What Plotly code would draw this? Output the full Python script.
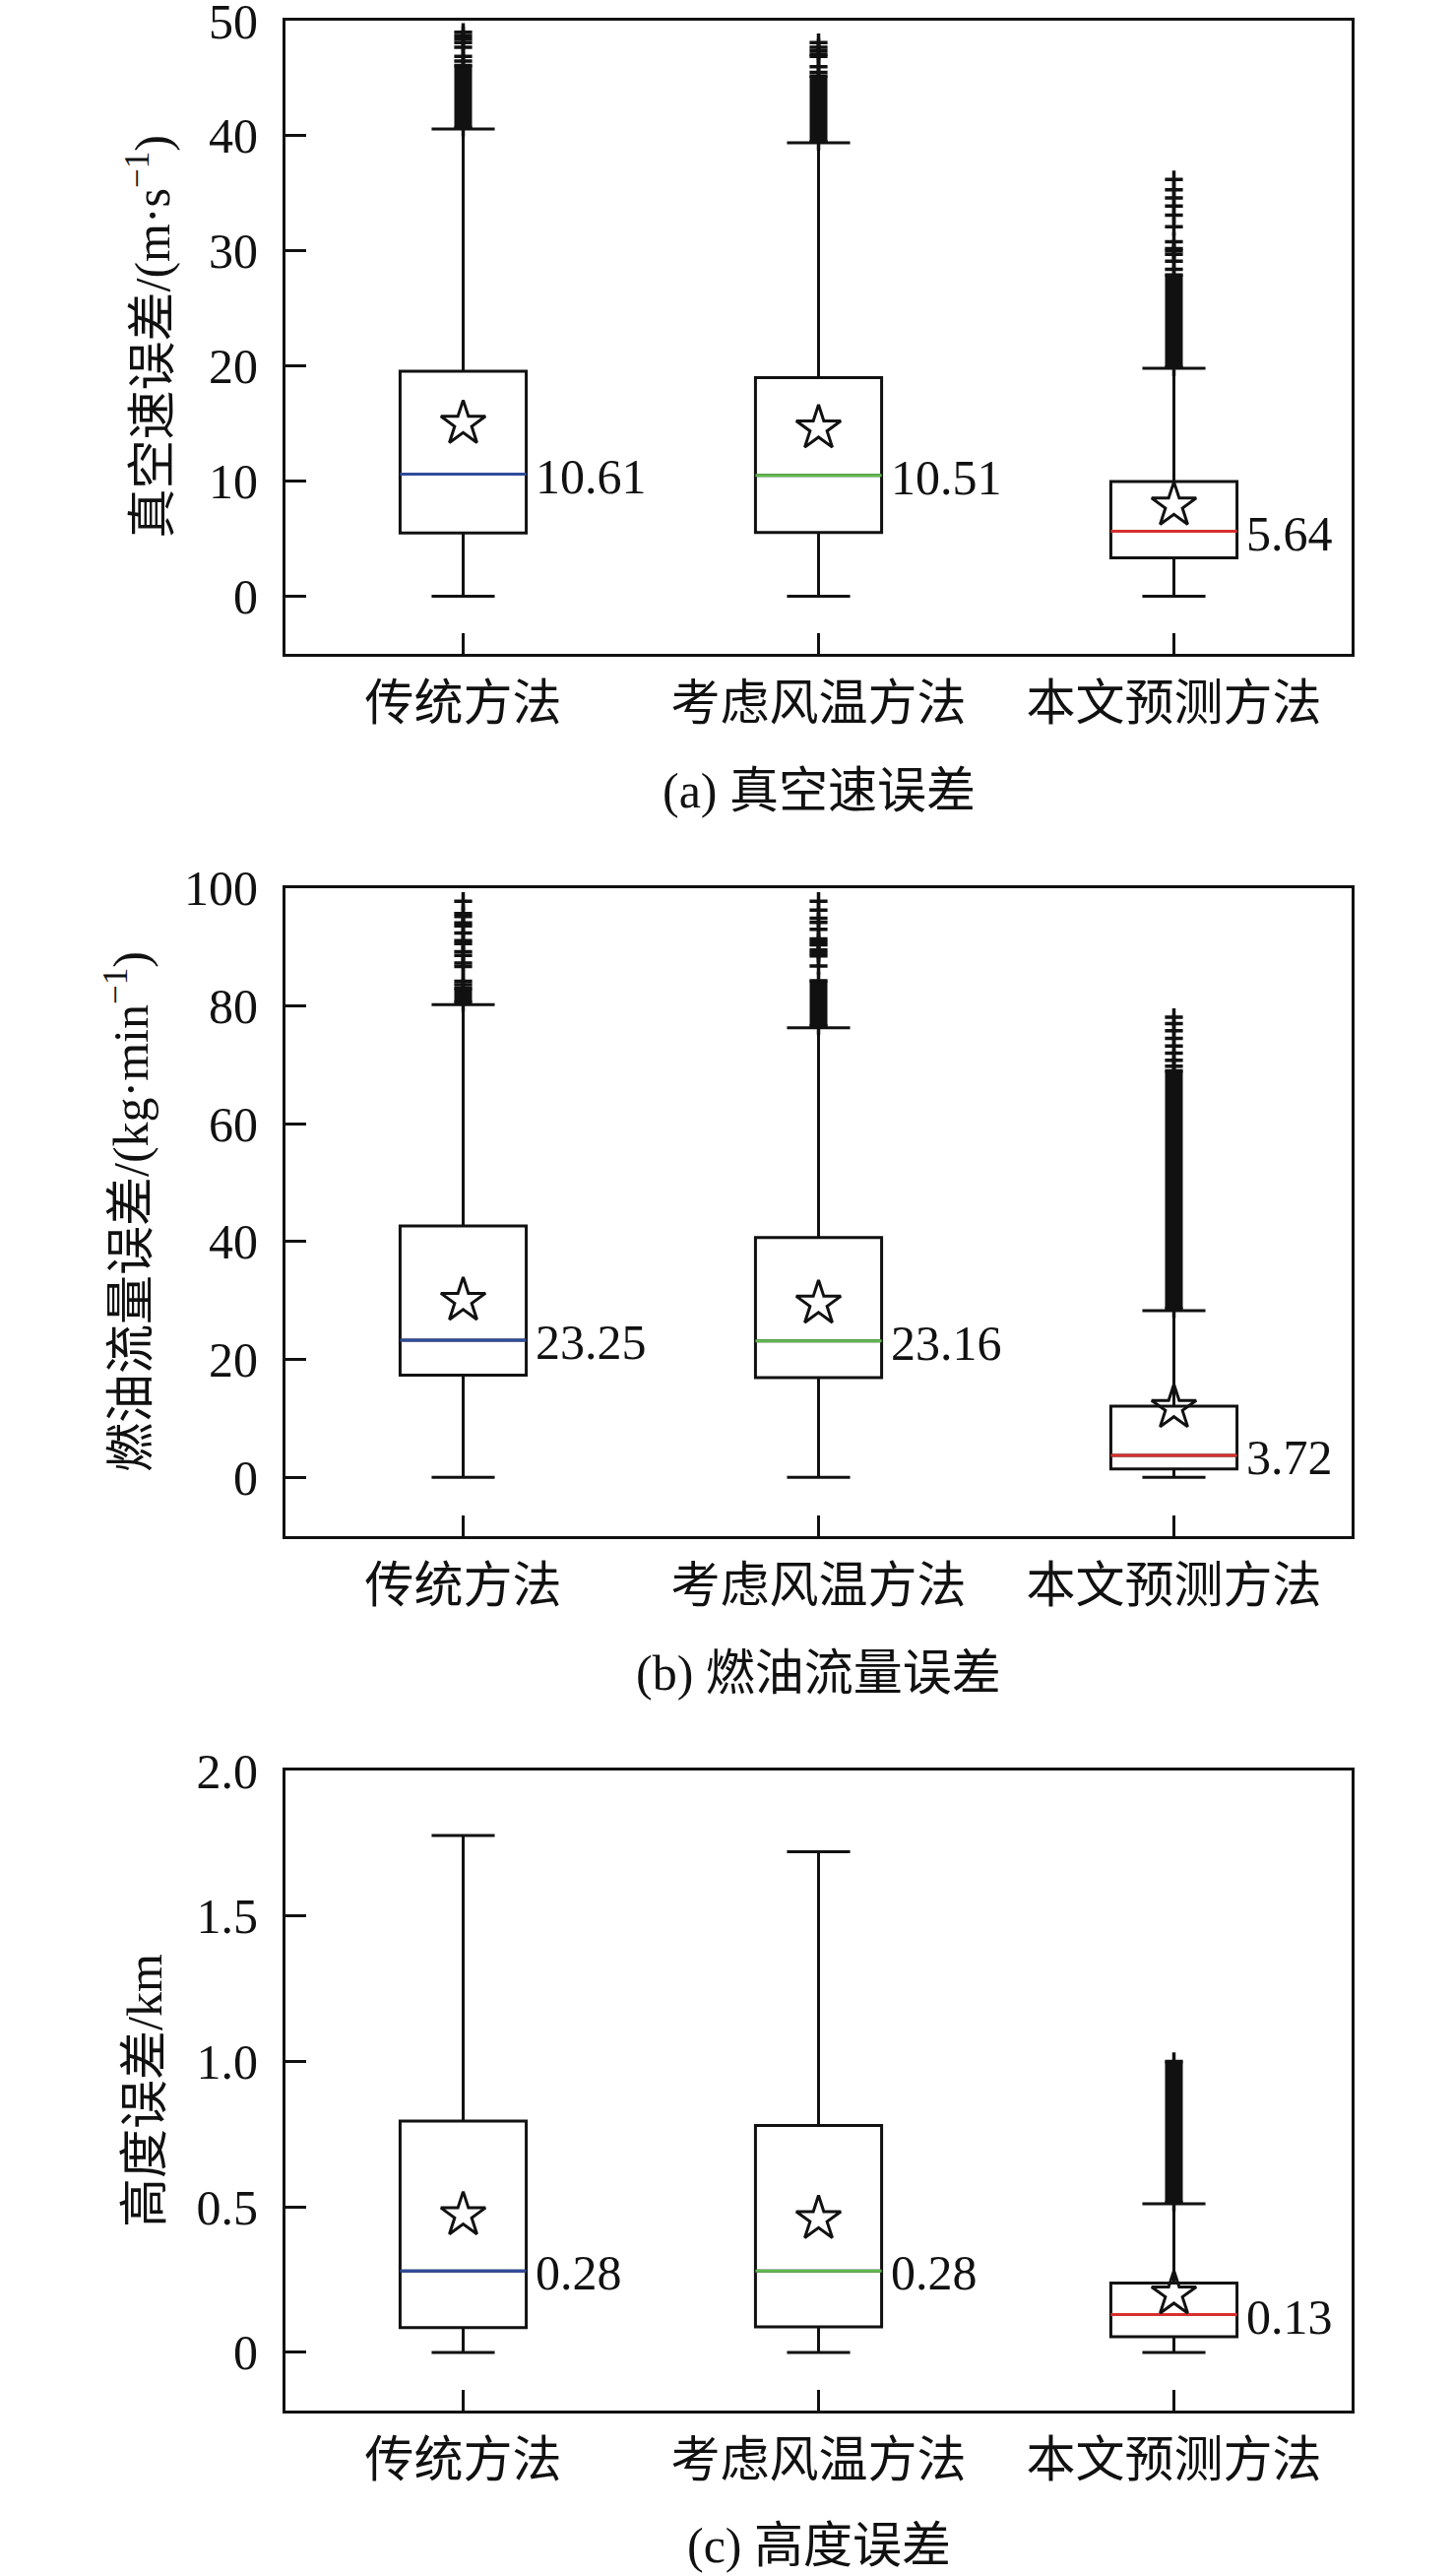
import plotly.graph_objects as go

# ---------------- data ----------------
categories = ["传统方法", "考虑风温方法", "本文预测方法"]
positions = [1, 2, 3]
median_colors = ["#2f4c9c", "#5fb84f", "#d7302e"]

# (a) true airspeed error, m/s
tas_q1 = [5.5, 5.55, 3.34]
tas_median = [10.61, 10.51, 5.64]
tas_q3 = [19.55, 19.0, 9.97]
tas_lower = [0.0, 0.0, 0.0]
tas_upper = [40.6, 39.4, 19.8]
tas_mean = [15.0, 14.6, 7.9]
tas_band_lo = [40.7, 39.5, 19.9]
tas_band_hi = [46.1, 45.2, 27.9]
tas_outliers = [
    [46.5, 46.9, 47.7, 48.1, 48.4, 48.7, 49.0],
    [45.5, 46.0, 46.9, 47.1, 47.4, 47.7, 48.1],
    [28.4, 29.1, 29.7, 30.0, 30.2, 30.8, 32.1, 33.1, 33.9, 34.6, 35.3, 36.2],
]

# (b) fuel flow error, kg/min
fuel_q1 = [17.35, 16.9, 1.4]
fuel_median = [23.25, 23.16, 3.72]
fuel_q3 = [42.65, 40.7, 12.07]
fuel_lower = [0.0, 0.0, 0.0]
fuel_upper = [80.25, 76.3, 28.3]
fuel_mean = [30.0, 29.5, 11.8]
fuel_band_lo = [80.6, 76.6, 28.6]
fuel_band_hi = [83.0, 84.3, 69.0]
fuel_outliers = [
    [83.6, 84.2, 86.7, 87.3, 88.6, 89.2, 90.6, 91.1, 92.4, 93.6, 94.1, 95.2, 95.7, 97.8],
    [86.8, 88.5, 89.0, 89.5, 90.4, 90.9, 91.4, 93.0, 94.2, 94.9, 96.3, 97.8],
    [69.8, 70.8, 72.0, 73.2, 74.5, 75.8, 77.0, 78.1],
]

# (c) altitude error, km
alt_q1 = [0.085, 0.088, 0.054]
alt_median = [0.28, 0.28, 0.13]
alt_q3 = [0.795, 0.780, 0.238]
alt_lower = [0.0, 0.0, 0.0]
alt_upper = [1.777, 1.721, 0.511]
alt_mean = [0.472, 0.459, 0.200]
alt_band_lo = [None, None, 0.515]
alt_band_hi = [None, None, 1.0]
alt_outliers = [[], [], []]

tas_ticks = [0, 10, 20, 30, 40, 50]
tas_ticktext = ["0", "10", "20", "30", "40", "50"]
fuel_ticks = [0, 20, 40, 60, 80, 100]
fuel_ticktext = ["0", "20", "40", "60", "80", "100"]
alt_ticks = [0, 0.5, 1.0, 1.5, 2.0]
alt_ticktext = ["0", "0.5", "1.0", "1.5", "2.0"]

panels = [
    dict(q1=tas_q1, med=tas_median, q3=tas_q3, lo=tas_lower, up=tas_upper, mean=tas_mean,
         blo=tas_band_lo, bhi=tas_band_hi, out=tas_outliers, rng=[-5, 50],
         ticks=tas_ticks, ticktext=tas_ticktext,
         ytitle="真空速误差/(m·s<sup>−1</sup>)", caption="(a) 真空速误差",
         dom=[0.74618, 0.99197], title_x=151, cap_y=803),
    dict(q1=fuel_q1, med=fuel_median, q3=fuel_q3, lo=fuel_lower, up=fuel_upper, mean=fuel_mean,
         blo=fuel_band_lo, bhi=fuel_band_hi, out=fuel_outliers, rng=[-10, 100],
         ticks=fuel_ticks, ticktext=fuel_ticktext,
         ytitle="燃油流量误差/(kg·min<sup>−1</sup>)", caption="(b) 燃油流量误差",
         dom=[0.40367, 0.65520], title_x=130, cap_y=1699),
    dict(q1=alt_q1, med=alt_median, q3=alt_q3, lo=alt_lower, up=alt_upper, mean=alt_mean,
         blo=alt_band_lo, bhi=alt_band_hi, out=alt_outliers, rng=[-0.2, 2.0],
         ticks=alt_ticks, ticktext=alt_ticktext,
         ytitle="高度误差/km", caption="(c) 高度误差",
         dom=[0.06422, 0.31269], title_x=147, cap_y=2585),
]

# ---------------- style ----------------
W, H = 1476, 2616
FONT = "'Liberation Serif', 'Times New Roman', 'Noto Sans CJK SC', serif"
FS = 50
BOX_W = 0.355
XDOM = [290 / W, 1373 / W]
INK = "#111111"

fig = go.Figure()
annotations = []
layout_axes = {}

for i, p in enumerate(panels, start=1):
    xa = "x" if i == 1 else f"x{i}"
    ya = "y" if i == 1 else f"y{i}"
    for j in range(3):
        fig.add_trace(go.Box(
            x=[positions[j]], q1=[p["q1"][j]], median=[p["med"][j]], q3=[p["q3"][j]],
            lowerfence=[p["lo"][j]], upperfence=[p["up"][j]],
            width=BOX_W, whiskerwidth=0.5, boxpoints=False,
            line=dict(color=INK, width=3), fillcolor="white",
            xaxis=xa, yaxis=ya, showlegend=False, hoverinfo="skip"))
    for j in range(3):
        # coloured median
        fig.add_trace(go.Scatter(
            x=[positions[j] - BOX_W / 2, positions[j] + BOX_W / 2],
            y=[p["med"][j], p["med"][j]], mode="lines",
            line=dict(color=median_colors[j], width=3),
            xaxis=xa, yaxis=ya, showlegend=False, hoverinfo="skip"))
        # dense outlier band
        if p["blo"][j] is not None:
            fig.add_trace(go.Scatter(
                x=[positions[j], positions[j]], y=[p["blo"][j], p["bhi"][j]],
                mode="lines+markers", line=dict(color=INK, width=18),
                marker=dict(symbol="cross-thin", size=13, line=dict(width=3.5, color=INK)),
                xaxis=xa, yaxis=ya, showlegend=False, hoverinfo="skip"))
        # separate outliers
        if p["out"][j]:
            fig.add_trace(go.Scatter(
                x=[positions[j]] * len(p["out"][j]), y=p["out"][j], mode="markers",
                marker=dict(symbol="cross-thin", size=13, line=dict(width=3.5, color=INK)),
                xaxis=xa, yaxis=ya, showlegend=False, hoverinfo="skip"))
        # median label
        annotations.append(dict(
            x=positions[j] + BOX_W / 2, y=p["med"][j], xref=xa, yref=ya,
            text=f"{p['med'][j]:.2f}", showarrow=False, xanchor="left", yanchor="middle",
            xshift=7, yshift=-2, font=dict(family=FONT, size=FS, color=INK)))
    # means
    fig.add_trace(go.Scatter(
        x=positions, y=p["mean"], mode="markers",
        marker=dict(symbol="star-open", size=34, color=INK, line=dict(width=3, color=INK)),
        xaxis=xa, yaxis=ya, showlegend=False, hoverinfo="skip"))

    common = dict(showline=True, linewidth=3, linecolor=INK, mirror=True,
                  ticks="inside", ticklen=21, tickwidth=3, tickcolor=INK,
                  showgrid=False, zeroline=False, automargin=False,
                  ticklabeloverflow="allow",
                  tickfont=dict(family=FONT, size=FS, color=INK))
    layout_axes["xaxis" if i == 1 else f"xaxis{i}"] = dict(
        domain=XDOM, range=[0.5, 3.5], tickvals=positions, ticktext=categories,
        anchor=ya, ticklabelstandoff=4, fixedrange=True, **common)
    layout_axes["yaxis" if i == 1 else f"yaxis{i}"] = dict(
        domain=p["dom"], range=p["rng"], tickvals=p["ticks"], ticktext=p["ticktext"],
        anchor=xa, ticklabelstandoff=15, fixedrange=True, **common)

    ymid = (p["dom"][0] + p["dom"][1]) / 2
    annotations.append(dict(
        x=p["title_x"] / W, y=ymid, xref="paper", yref="paper", text=p["ytitle"],
        textangle=-90, showarrow=False, xanchor="center", yanchor="middle",
        font=dict(family=FONT, size=FS, color=INK)))
    annotations.append(dict(
        x=(XDOM[0] + XDOM[1]) / 2, y=1 - p["cap_y"] / H, xref="paper", yref="paper",
        text=p["caption"], showarrow=False, xanchor="center", yanchor="middle",
        font=dict(family=FONT, size=FS, color=INK)))

fig.update_layout(
    width=W, height=H, margin=dict(l=0, r=0, t=0, b=0, autoexpand=False),
    paper_bgcolor="white", plot_bgcolor="white", boxmode="overlay",
    showlegend=False, annotations=annotations, template="none",
    font=dict(family=FONT, size=FS, color=INK), **layout_axes)

fig.write_html("out.html", config={"displayModeBar": False},
               post_script="document.body.style.margin='0px';document.body.style.overflow='hidden';")
